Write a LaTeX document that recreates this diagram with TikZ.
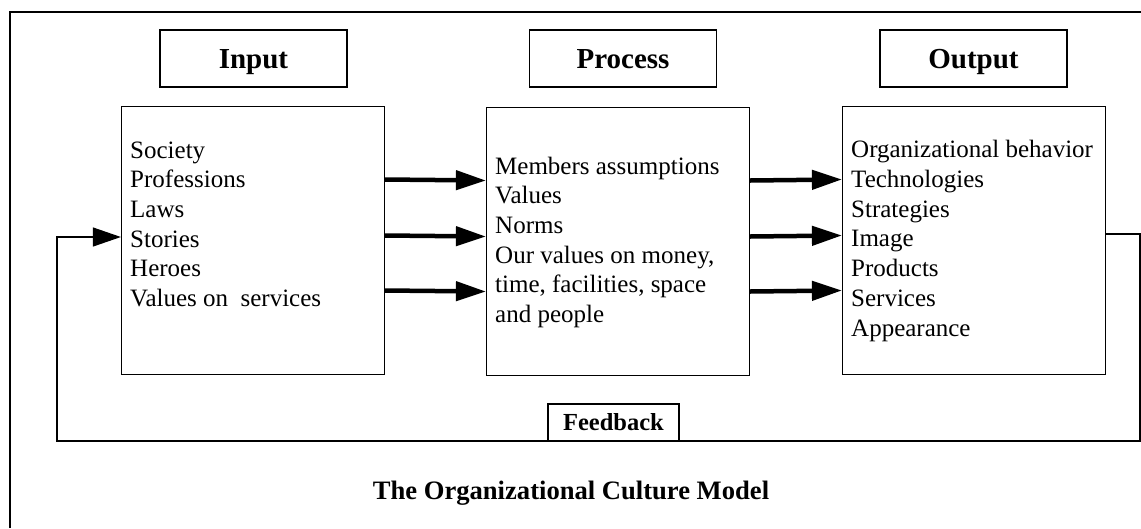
\documentclass[tikz,border=0pt]{standalone}
\usepackage{fontspec}
\setmainfont{Liberation Serif}
\usetikzlibrary{positioning,arrows.meta}

\tikzset{
  head/.style={draw, line width=1.2pt, minimum width=187pt, minimum height=57pt,
    text height=22pt, text depth=3pt, font=\fontsize{29}{34}\selectfont\bfseries},
  stage/.style={draw, line width=1.2pt, minimum width=263pt, minimum height=268pt},
  items/.style={align=left, anchor=base west, inner sep=0pt,
    font=\fontsize{25}{29.7}\selectfont},
  flow/.style={line width=4.5pt, -{Triangle[length=30pt,width=19pt]}},
  loop/.style={line width=1.2pt, -{Triangle[length=28pt,width=19pt]}},
  fbbox/.style={draw, fill=white, line width=1.2pt, minimum width=131pt, minimum height=37pt,
    font=\fontsize{24.5}{28}\selectfont\bfseries},
}

\begin{document}
\begin{tikzpicture}[x=1pt,y=-1pt]
    \useasboundingbox (0,0) rectangle (1141,528);
    \draw[line width=2.5pt] (10,528) -- (10,12) -- (1141,12);

    % headings
    \node[head] (inhead) at (253.5,58.5) {Input};
    \node[head] (prochead) at (623,58.5) {Process};
    \node[head] (outhead) at (973.5,58.5) {Output};

    % stages
    \node[stage] (inbox) at (253,240.5) {};
    \node[stage] (procbox) at (618,241.5) {};
    \node[stage] (outbox) at (974,240.5) {};

    % lists (base = last line)
    \node[items] (inlist) at (130,306.5) {Society\\Professions\\Laws\\Stories\\Heroes\\Values on\ \ services};
    \node[items] (proclist) at (495,322.5) {Members assumptions\\Values\\Norms\\Our values on money,\\time, facilities, space\\and people};
    \node[items] (outlist) at (851,336) {Organizational behavior\\Technologies\\Strategies\\Image\\Products\\Services\\Appearance};

    \foreach \dy in {61,5,-50} {
        \draw[flow] ([yshift=\dy pt]inbox.east) -- ([yshift=\dy pt]procbox.west);
        \draw[flow] ([yshift=\dy pt]procbox.east) -- ([yshift=\dy pt]outbox.west);
    }

    % feedback loop
    \coordinate (fbright) at (1140,441);
    \coordinate (fbleft) at (57,441);
    \draw[loop] ([yshift=6.5pt]outbox.east) -| (fbright) -- (fbleft) |- ([yshift=3.5pt]inbox.west);
    \node[fbbox] (fb) at (613.5,422.5) {Feedback};

    \node[anchor=base, font=\fontsize{26.6}{30}\selectfont\bfseries] (title) at (571,499) {The Organizational Culture Model};
\end{tikzpicture}
\end{document}
